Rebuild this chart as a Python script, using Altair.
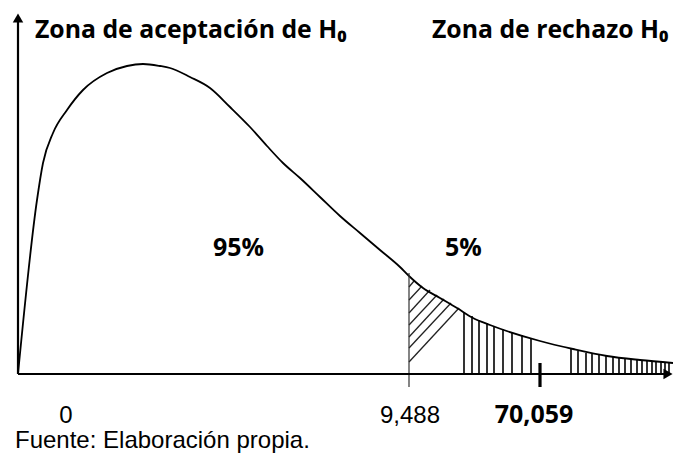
import altair as alt
import pandas as pd

# Schematic chi-square density curve (units: px right of / above origin)
curve_x = [0, 19, 25, 35, 49, 65, 89, 109, 125, 142, 152, 172, 192, 212, 232, 249, 265, 282,
           302, 322, 342, 362, 382, 391, 405, 422, 439, 455, 472, 522, 555, 589, 622, 655]
curve_y = [0, 174, 211, 241, 264, 284, 301, 308, 310, 308, 306, 297, 286, 267, 247, 228, 211, 196,
           177, 158, 141, 124, 107, 98, 86, 76, 66, 56, 49, 33, 25, 18, 14, 11]

# Vertical hatching in the rejection zone
vhatch_x = [446, 454, 461, 469, 476, 485, 494, 504, 513,
            553, 560, 568, 574, 581, 588, 595, 601, 607, 613, 619, 624, 629, 634, 638, 643, 647, 651]
vhatch_top = [62, 58, 54, 51, 48, 45, 42, 39, 36,
              25, 23, 21, 20, 19, 18, 17, 16, 15.5, 15, 14, 13.5, 13, 12.5, 12, 12, 11.5, 11]

# Diagonal hatching just right of the critical value
dhatch_x0 = [391, 391, 391, 391, 391, 391, 391]
dhatch_y0 = [12, 26, 37, 49, 61, 74, 87]
dhatch_x1 = [441, 433, 426, 419, 412, 404, 396]
dhatch_y1 = [66, 71, 75, 79, 84, 88, 93]

critical_x = 391
stat_x = 522
labels = ["0", "9,488", "70,059"]
label_x = [48, 392, 516]

W, H = 666, 447
xs = alt.Scale(domain=[-10, 656], nice=False, zero=False)
ys = alt.Scale(domain=[-81, 366], nice=False, zero=False)
X = lambda f: alt.X(f, type="quantitative", scale=xs, axis=None)
Y = lambda f: alt.Y(f, type="quantitative", scale=ys, axis=None)

curve_df = pd.DataFrame({"x": curve_x, "y": curve_y})
curve = alt.Chart(curve_df).mark_line(color="black", strokeWidth=1.8, interpolate="monotone").encode(
    x=X("x"), y=Y("y"))

vh_df = pd.DataFrame({"x": vhatch_x, "top": vhatch_top, "bot": [0] * len(vhatch_x)})
vh = alt.Chart(vh_df).mark_rule(color="black", strokeWidth=1.6).encode(
    x=X("x"), y=Y("bot"), y2="top")

dh_df = pd.DataFrame({"x0": dhatch_x0, "y0": dhatch_y0, "x1": dhatch_x1, "y1": dhatch_y1})
dh = alt.Chart(dh_df).mark_rule(color="#222222", strokeWidth=1.3).encode(
    x=X("x0"), y=Y("y0"), x2="x1", y2="y1")

axes_df = pd.DataFrame({"x0": [0, 0], "y0": [0, 0], "x1": [648, 0], "y1": [0, 354]})
axes = alt.Chart(axes_df).mark_rule(color="black", strokeWidth=2.2).encode(
    x=X("x0"), y=Y("y0"), x2="x1", y2="y1")

arrow_df = pd.DataFrame({"x": [650, 0], "y": [0, 356], "shape": ["triangle-right", "triangle-up"]})
arrows = alt.Chart(arrow_df).mark_point(filled=True, color="black", opacity=1, size=110).encode(
    x=X("x"), y=Y("y"), shape=alt.Shape("shape:N", scale=None, legend=None))

crit_df = pd.DataFrame({"x": [critical_x], "a": [-13], "b": [101]})
crit = alt.Chart(crit_df).mark_rule(color="#333333", strokeWidth=1.2).encode(
    x=X("x"), y=Y("a"), y2="b")

stat_df = pd.DataFrame({"x": [stat_x], "a": [-13], "b": [11]})
stat = alt.Chart(stat_df).mark_rule(color="black", strokeWidth=3.2).encode(
    x=X("x"), y=Y("a"), y2="b")

def txt(s, x, y, size, bold, font, align="left"):
    d = pd.DataFrame({"t": [s], "x": [x], "y": [y]})
    return alt.Chart(d).mark_text(
        align=align, baseline="alphabetic", fontSize=size, font=font,
        fontWeight="bold" if bold else "normal", color="black").encode(
        x=X("x"), y=Y("y"), text="t:N")

bold_font = "Open Sans, Lato, DejaVu Sans"
reg_font = "Liberation Sans, Arial"

texts = [
    txt("Zona de aceptación de H₀", 17, 336, 24.8, True, bold_font),
    txt("Zona de rechazo H₀", 414, 336, 24.8, True, bold_font),
    txt("95%", 195, 118, 25, True, bold_font),
    txt("5%", 427, 118, 25, True, bold_font),
    txt(labels[0], label_x[0], -49, 24, False, reg_font, "center"),
    txt(labels[1], label_x[1], -49, 24, False, reg_font, "center"),
    txt(labels[2], label_x[2], -49, 25, True, bold_font, "center"),
    txt("Fuente: Elaboración propia.", -3, -74, 24, False, reg_font),
]

chart = alt.layer(dh, vh, curve, crit, stat, axes, arrows, *texts).properties(
    width=W, height=H, autosize=alt.AutoSizeParams(type="none"), padding=0,
    background="white").configure_view(stroke=None)

chart.save("out.html", embed_options={"renderer": "svg", "actions": False})
